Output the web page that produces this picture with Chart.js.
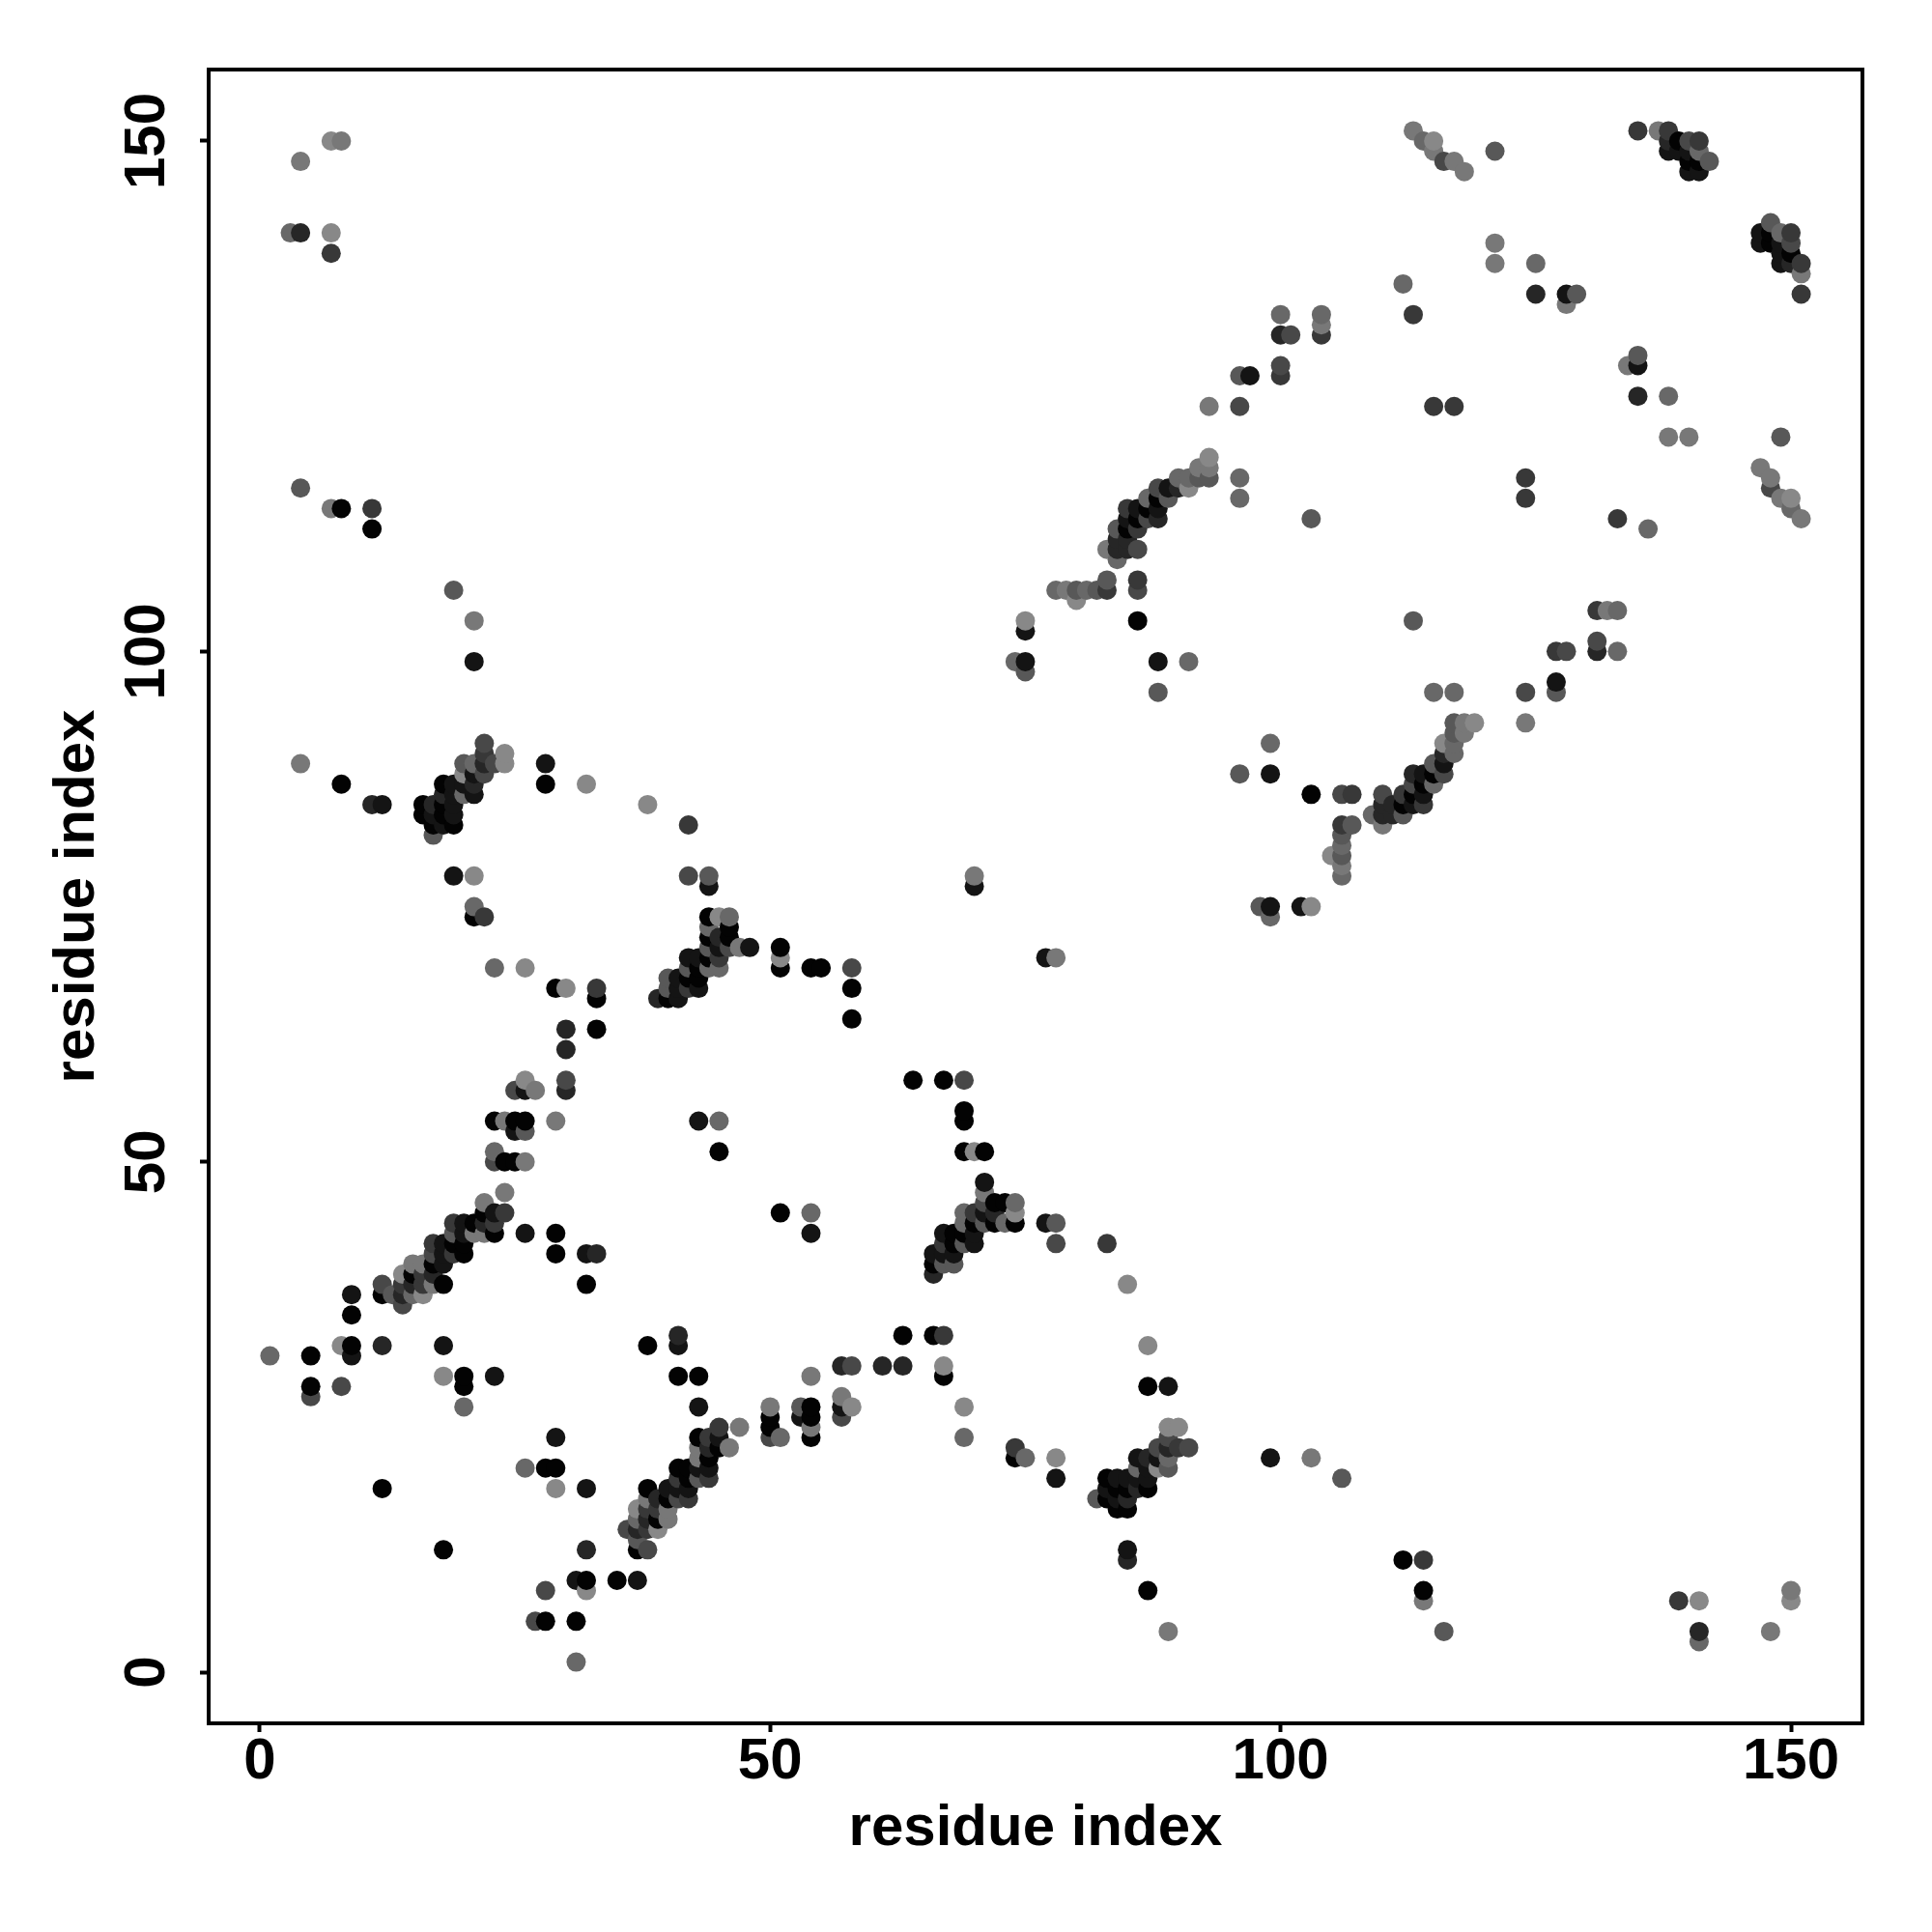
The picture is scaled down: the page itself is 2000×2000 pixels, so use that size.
<!DOCTYPE html>
<html>
<head>
<meta charset="utf-8">
<title>residue contact map</title>
<script src="https://cdn.jsdelivr.net/npm/chart.js@4"></script>
<style>
    body { margin: 0; background: #fff; }
    canvas { display: block; }
</style>
</head>
<body>
<canvas id="contactMap" width="2000" height="2000"></canvas>
<script>
// contacts as [residue, residue], lower index first, one list per grey
const level0 = [[5,31],[5,28],[8,114],[9,32],[9,35],[11,112],[12,18],[12,37],[8,87],[15,39],[16,84],[16,85],[17,40],[17,83],[18,38],[18,84],[18,85],[18,87],[19,42],[19,83],[20,28],[20,29],[20,41],[20,42],[21,44],[21,74],[22,45],[23,43],[23,54],[24,50],[25,50],[25,54],[26,54],[28,87],[29,41],[29,43],[29,67],[32,38],[33,63],[33,66],[40,66],[42,68],[43,68],[43,69],[44,70],[44,72],[44,74],[45,51],[46,72],[46,73],[51,69],[51,71],[54,69],[55,69],[58,64],[58,67],[86,103],[85,112],[86,113],[87,114],[88,115],[139,150],[140,148],[141,148]];
const level1 = [[9,31],[9,37],[12,85],[18,32],[18,40],[18,41],[18,42],[17,84],[18,83],[19,78],[19,84],[19,85],[19,86],[19,87],[20,43],[20,44],[20,87],[21,86],[21,88],[21,99],[23,29],[23,45],[26,43],[26,57],[25,53],[28,89],[32,41],[41,66],[41,67],[41,68],[42,70],[43,54],[43,67],[43,70],[44,77],[45,71],[48,71],[70,77],[75,99],[75,102],[85,113],[86,114],[88,99],[88,114],[89,116],[97,127],[128,135],[138,149],[139,149],[140,149],[140,147],[141,147]];
const level2 = [[4,141],[11,85],[12,32],[14,37],[15,38],[17,39],[17,85],[18,86],[21,87],[22,44],[22,89],[30,57],[30,61],[30,63],[33,41],[39,66],[45,72],[84,110],[84,111],[85,110],[85,111],[88,113],[90,116],[100,131],[125,135],[138,150]];
const level3 = [[7,139],[11,114],[14,38],[16,38],[16,39],[17,42],[19,41],[19,44],[22,74],[22,90],[23,44],[24,45],[33,67],[42,67],[42,83],[45,70],[83,106],[85,114],[86,107],[86,112],[100,127],[104,131],[113,133],[115,124],[117,124],[135,151],[138,151],[141,150]];
const level4 = [[5,27],[8,28],[12,38],[14,36],[17,41],[22,88],[22,91],[23,50],[23,89],[25,57],[30,58],[42,78],[46,71],[58,69],[86,106],[86,110],[87,113],[88,116],[96,124],[100,128],[101,131],[116,148],[140,150]];
const level5 = [[4,116],[13,37],[17,82],[19,43],[19,106],[20,89],[26,53],[40,67],[40,68],[42,69],[44,71],[44,78],[75,98],[80,106],[82,106],[83,107],[84,112],[88,96],[89,115],[92,117],[93,117],[96,127],[103,113],[121,149],[129,135],[142,148]];
const level6 = [[1,31],[3,141],[15,37],[20,26],[20,86],[21,75],[21,89],[23,51],[23,69],[44,69],[44,73],[45,54],[45,69],[46,74],[74,99],[78,106],[81,106],[84,109],[87,115],[90,117],[91,99],[91,117],[96,115],[96,117],[100,133],[104,133],[112,136],[114,150],[125,138],[141,149]];
const level7 = [[4,89],[4,148],[7,114],[8,150],[15,40],[16,40],[17,38],[21,43],[21,103],[22,43],[22,46],[24,47],[24,54],[26,50],[27,57],[29,54],[47,71],[70,78],[79,106],[83,110],[92,118],[93,118],[93,124],[104,132],[113,151],[115,149],[117,148],[118,147],[121,138],[121,140],[128,134],[137,151]];
const level8 = [[7,141],[7,150],[8,32],[14,39],[16,37],[18,29],[20,88],[21,78],[24,89],[24,90],[26,58],[26,69],[30,67],[32,87],[38,85],[45,74],[51,70],[75,103],[80,105],[91,116],[93,119],[115,150]];

const contactLists = [level0, level1, level2, level3, level4, level5, level6, level7, level8];
const greys = ['#030303', '#141414', '#262626', '#383838', '#484848', '#585858', '#686868', '#787878', '#888888'];
const tickValues = [0, 50, 100, 150];

// the map is symmetric, every contact shows on both sides of the diagonal
const points = [];
contactLists.forEach((list, n) => {
    list.forEach(pair => {
        points.push({ x: pair[0], y: pair[1], colour: greys[n] });
        points.push({ x: pair[1], y: pair[0], colour: greys[n] });
    });
});
// later points sit on top: by x, then by y
points.sort((a, b) => a.x - b.x || a.y - b.y);

const boldFont = { family: '"Liberation Sans"', size: 60, weight: 'bold', lineHeight: 1 };

const framePlugin = {
    id: 'frame',
    afterDraw(chart) {
        const { ctx, chartArea: area } = chart;
        ctx.save();
        ctx.strokeStyle = '#000';
        ctx.lineWidth = 4;
        ctx.strokeRect(area.left, area.top, area.right - area.left, area.bottom - area.top);
        ctx.restore();
    }
};

new Chart(
    document.getElementById('contactMap'),
    {
        type: 'scatter',
        data: {
            datasets: [
                {
                    data: points,
                    pointRadius: 10,
                    pointHoverRadius: 10,
                    pointBorderWidth: 0,
                    pointBackgroundColor: points.map(p => p.colour)
                }
            ]
        },
        options: {
            responsive: false,
            animation: false,
            events: [],
            layout: {
                padding: { top: 72, right: 72, bottom: 0, left: 0 }
            },
            plugins: {
                legend: { display: false },
                tooltip: { enabled: false }
            },
            scales: {
                x: {
                    type: 'linear',
                    min: -5,
                    max: 157,
                    afterBuildTicks: scale => { scale.ticks = tickValues.map(v => ({ value: v })); },
                    afterFit: scale => { scale.height = 216; },
                    border: { display: false },
                    grid: { drawOnChartArea: false, tickLength: 9, tickWidth: 4, tickColor: '#000' },
                    ticks: { color: '#000', font: boldFont, padding: 1, maxRotation: 0 },
                    title: {
                        display: true,
                        text: 'residue index',
                        color: '#000',
                        font: boldFont,
                        padding: { top: 0, bottom: 77 }
                    }
                },
                y: {
                    type: 'linear',
                    min: -5,
                    max: 157,
                    afterBuildTicks: scale => { scale.ticks = tickValues.map(v => ({ value: v })); },
                    afterFit: scale => { scale.width = 216; },
                    border: { display: false },
                    grid: { drawOnChartArea: false, tickLength: 9, tickWidth: 4, tickColor: '#000' },
                    ticks: { color: '#000', font: boldFont, padding: 3, minRotation: 90, maxRotation: 90, crossAlign: 'center' },
                    title: {
                        display: true,
                        text: 'residue index',
                        color: '#000',
                        font: boldFont,
                        padding: { top: 50, bottom: 0 }
                    }
                }
            }
        },
        plugins: [framePlugin]
    }
);
</script>
</body>
</html>
